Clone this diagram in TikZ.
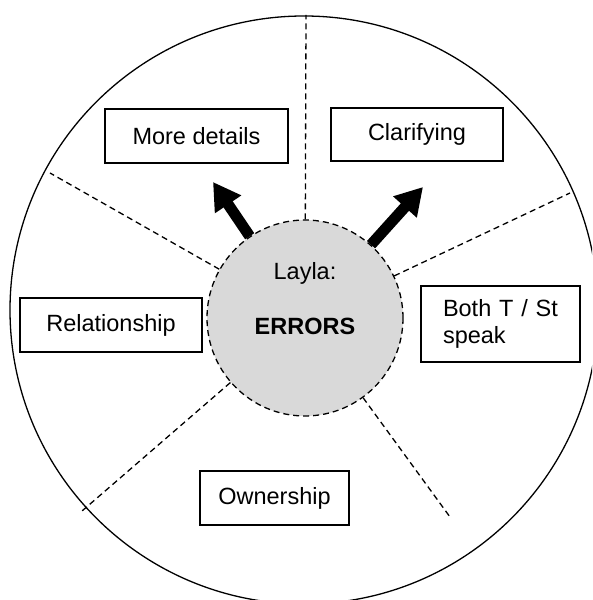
\documentclass[tikz,border=0pt]{standalone}
\usepackage{fontspec}
\setmainfont{Liberation Sans}
\usetikzlibrary{arrows.meta}
\definecolor{coregray}{RGB}{217,217,217}
\begin{document}
\begin{tikzpicture}[x=1pt,y=1pt,
  every node/.style={font=\fontsize{23.5}{27}\selectfont},
  labelbox/.style={draw, line width=1.4pt, inner sep=0pt, minimum height=54pt},
  divider/.style={dash pattern=on 6pt off 4pt, line width=1.3pt},
  push/.style={line width=11pt, -{Triangle[length=27pt,width=30pt]}}
]
\useasboundingbox (0,0) rectangle (592,600);
\clip (0,0) rectangle (592,600);

% outer ring
\draw[line width=1.3pt] (304,290) circle[radius=294pt];

% central topic
\node[circle, draw, fill=coregray, dash pattern=on 6pt off 4pt, line width=1.3pt,
      minimum size=196pt, inner sep=0pt] (core) at (305,282) {};
\node[anchor=base] (who) at (305,320) {Layla:};
\node[anchor=base, font=\fontsize{23.5}{27}\selectfont\bfseries] (topic) at (305,265) {ERRORS};

% sector dividers
\coordinate (d1) at (306,585);
\coordinate (d2) at (50,427);
\coordinate (d3) at (570,407);
\coordinate (d4) at (82,89);
\coordinate (d5) at (450,83);
\foreach \d in {d1,d2,d3,d4,d5}
  \draw[divider] (core) -- (\d);

% arrows
\coordinate (t1) at (213,418);
\coordinate (t2) at (423,413);
\draw[push] (core) -- (t1);
\draw[push] (core) -- (t2);

% sector labels
\node[labelbox, minimum width=183pt] (details) at (196.5,464) {More details};
\node[labelbox, minimum width=172pt, minimum height=53pt] (clarify) at (417,465.5) {Clarifying};
\node[labelbox, minimum width=182pt] (relation) at (111,275) {Relationship};
\node[labelbox, minimum width=149pt] (owner) at (274.5,102) {Ownership};
\node[labelbox, text width=115pt, inner xsep=22pt, align=left, minimum height=76pt]
  (both) at (500.5,276) {Both T / St\\speak};
\end{tikzpicture}
\end{document}
